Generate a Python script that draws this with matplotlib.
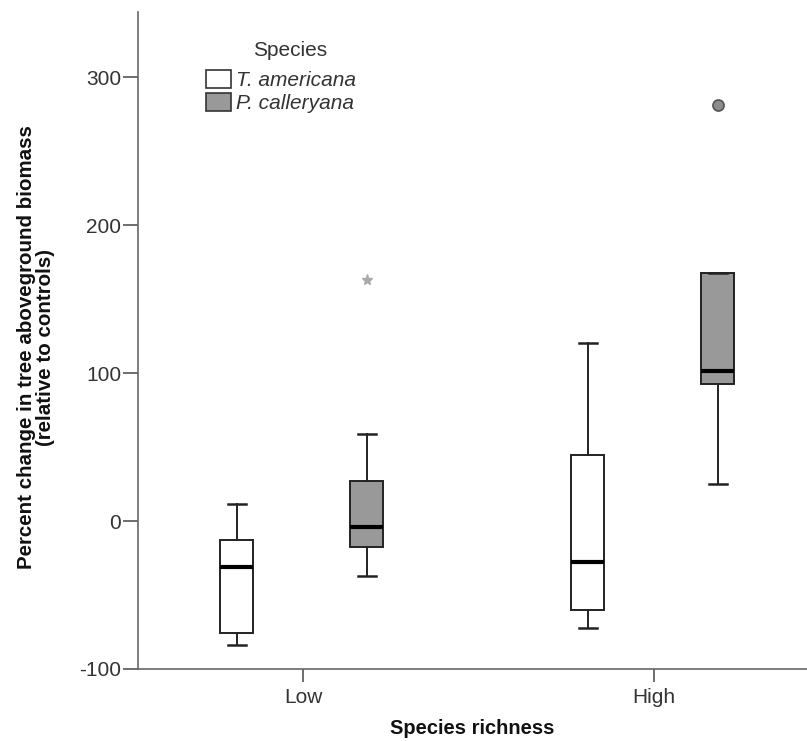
import matplotlib
matplotlib.use('Agg')
import matplotlib.pyplot as plt
from matplotlib.patches import Patch

# data (percent change)
groups = ['Low', 'High']
species = ['T. americana', 'P. calleryana']
fills = ['#ffffff', '#999999']

# [whislo, q1, med, q3, whishi] per species per group
t_americana = [[-84, -76, -31, -13, 11.5], [-72, -60, -28, 44.6, 120]]
p_calleryana = [[-37, -17.6, -4, 27, 59], [25, 92.6, 101.4, 167.6, 167.6]]
star_outliers = [[163], []]      # extreme values (P. calleryana)
circle_outliers = [[], [281]]    # outliers (P. calleryana)

plt.rcParams['font.family'] = ['Liberation Sans', 'DejaVu Sans']
plt.rcParams['axes.unicode_minus'] = False
fig = plt.figure(figsize=(8.07, 7.41), dpi=100)
ax = fig.add_axes([138/807, 72/741, 1 - 138/807, (669-12)/741])

offsets = [-0.188, 0.182]
ink = '#222222'

def make_stats(vals):
    return dict(whislo=vals[0], q1=vals[1], med=vals[2], q3=vals[3], whishi=vals[4], fliers=[])

for si, series in enumerate([t_americana, p_calleryana]):
    stats = [make_stats(v) for v in series]
    pos = [gi + offsets[si] for gi in range(len(groups))]
    ax.bxp(stats, positions=pos, widths=0.094, patch_artist=True, showfliers=False,
           boxprops=dict(facecolor=fills[si], edgecolor=ink, linewidth=1.4),
           medianprops=dict(color='black', linewidth=3),
           whiskerprops=dict(color=ink, linewidth=1.4),
           capprops=dict(color=ink, linewidth=1.8),
           capwidths=0.05, manage_ticks=False)

for gi in range(len(groups)):
    x = gi + offsets[1]
    for v in star_outliers[gi]:
        ax.plot(x, v, marker='*', color='#aaaaaa', markersize=8, linestyle='none')
    for v in circle_outliers[gi]:
        ax.plot(x, v, marker='o', markerfacecolor='#8c8c8c', markeredgecolor='#555555',
                markersize=8, markeredgewidth=1.2, linestyle='none')

ax.set_xlim(-0.47, 1.436)
ax.set_ylim(-100, 344)
ax.set_yticks([-100, 0, 100, 200, 300])
ax.set_xticks([0, 1])
ax.set_xticklabels(groups)
ax.spines['top'].set_visible(False)
ax.spines['right'].set_visible(False)
for sp in ['left', 'bottom']:
    ax.spines[sp].set_color('#666666')
    ax.spines[sp].set_linewidth(1.2)
ax.tick_params(axis='both', colors='#555555', labelcolor='#333333', labelsize=15,
               width=1.2)
ax.tick_params(axis='y', length=11, pad=1)
ax.tick_params(axis='x', length=9.5, pad=4)

ax.set_xlabel('Species richness', fontsize=14.5, fontweight='bold', color='#111111')
ax.xaxis.set_label_coords(0.5, -0.076)
ax.set_ylabel('Percent change in tree aboveground biomass\n(relative to controls)',
              fontsize=14.8, fontweight='bold', color='#111111', linespacing=1.0)
ax.yaxis.set_label_coords(-0.124, 0.49)

# legend (title drawn separately to get the wider gap under it)
ax.text(0.227, 0.941, 'Species', transform=ax.transAxes, ha='center', va='center',
        fontsize=15, color='#333333')
handles = [Patch(facecolor=fills[i], edgecolor='#333333', linewidth=1.2) for i in range(2)]
leg = ax.legend(handles, species, loc='upper left',
                bbox_to_anchor=(0.1016, 0.912), frameon=False, fontsize=15,
                handlelength=1.2, handleheight=1.0,
                handletextpad=0.25, labelspacing=0.12, borderaxespad=0.0,
                borderpad=0.0)
for t in leg.get_texts():
    t.set_fontstyle('italic')
    t.set_color('#333333')

fig.savefig('out.png', dpi=100)
